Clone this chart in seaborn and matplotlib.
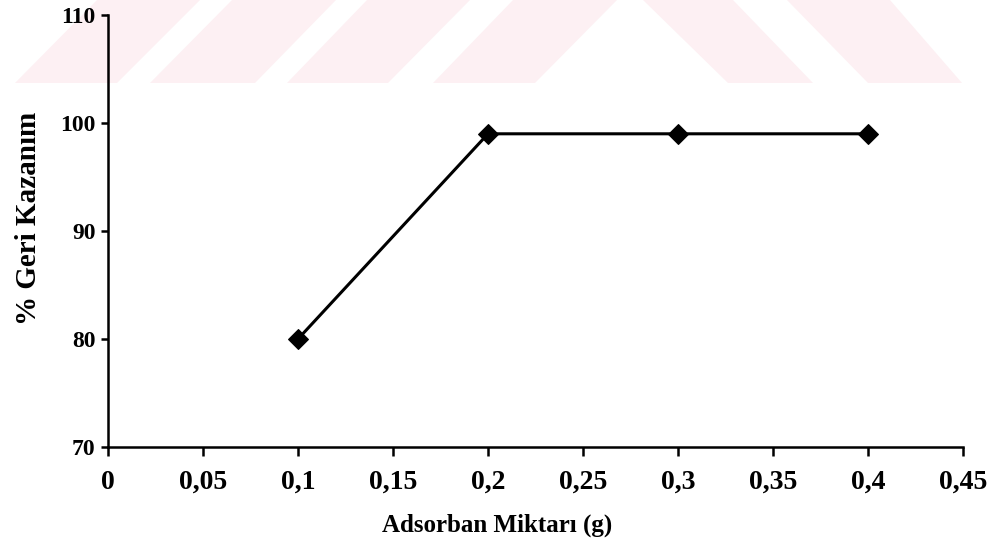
import matplotlib
matplotlib.use("Agg")
import matplotlib.pyplot as plt
from matplotlib.patches import Polygon
import seaborn as sns
import pandas as pd

# Data
adsorbent_g = [0.1, 0.2, 0.3, 0.4]
recovery_pct = [80, 99, 99, 99]
x_ticks = [0, 0.05, 0.1, 0.15, 0.2, 0.25, 0.3, 0.35, 0.4, 0.45]
x_tick_labels = ["0", "0,05", "0,1", "0,15", "0,2", "0,25", "0,3", "0,35", "0,4", "0,45"]
y_ticks = [70, 80, 90, 100, 110]
x_label = "Adsorban Miktarı (g)"
y_label = "% Geri Kazanım"

sns.set_theme(style="white")
plt.rcParams["font.family"] = ["Liberation Serif", "DejaVu Serif"]
plt.rcParams["font.weight"] = "bold"
plt.rcParams["text.color"] = "black"
plt.rcParams["axes.labelcolor"] = "black"

W, H = 995, 555
fig = plt.figure(figsize=(W / 100, H / 100), dpi=100)

# Faint watermark band at the top (figure pixel coordinates, decorative)
wm_color = "#fdf0f3"
def px(x, y):
    return (x / W, 1 - y / H)
shapes = [
    [(15, 83), (117, 83), (200, 0), (97, 0)],
    [(150, 83), (255, 83), (336, 0), (232, 0)],
    [(287, 83), (388, 83), (470, 0), (367, 0)],
    [(433, 83), (535, 83), (617, 0), (513, 0)],
    [(728, 83), (813, 83), (733, 0), (643, 0)],
    [(868, 83), (962, 83), (890, 0), (787, 0)],
]
for s in shapes:
    fig.patches.append(Polygon([px(*p) for p in s], closed=True,
                               transform=fig.transFigure, facecolor=wm_color,
                               edgecolor="none", zorder=-5))

ax = fig.add_axes([108 / W, 1 - 447 / H, (963 - 108) / W, (447 - 15) / H])
ax.set_facecolor("none")
ax.set_zorder(2)

df = pd.DataFrame({"x": adsorbent_g, "y": recovery_pct})
sns.lineplot(data=df, x="x", y="y", ax=ax, color="black", linewidth=2.2,
             marker="D", markersize=10, markeredgecolor="black")

ax.set_xlim(0, 0.45)
ax.set_ylim(70, 110)
ax.set_xticks(x_ticks)
ax.set_xticklabels(x_tick_labels)
ax.set_yticks(y_ticks)

for side in ["top", "right"]:
    ax.spines[side].set_visible(False)
for side in ["left", "bottom"]:
    ax.spines[side].set_color("black")
    ax.spines[side].set_linewidth(1.8)

ax.tick_params(axis="x", direction="out", length=6.5, width=1.8, colors="black",
               labelsize=20, pad=10, bottom=True)
ax.tick_params(axis="y", direction="out", length=5, width=1.8, colors="black",
               labelsize=17, pad=4, left=True)
for lbl in ax.get_xticklabels() + ax.get_yticklabels():
    lbl.set_fontweight("bold")

ax.set_xlabel(x_label, fontsize=18, fontweight="bold", color="black")
ax.set_ylabel(y_label, fontsize=21, fontweight="bold", color="black")
ax.xaxis.set_label_coords((497 - 108) / 855, -(525 - 447) / 432, transform=ax.transAxes)
ax.yaxis.set_label_coords(-(108 - 28) / 855, (447 - 218) / 432, transform=ax.transAxes)
ax.xaxis.label.set_va("center")
ax.yaxis.label.set_va("center")
ax.grid(False)

fig.savefig("out.png", dpi=100)
